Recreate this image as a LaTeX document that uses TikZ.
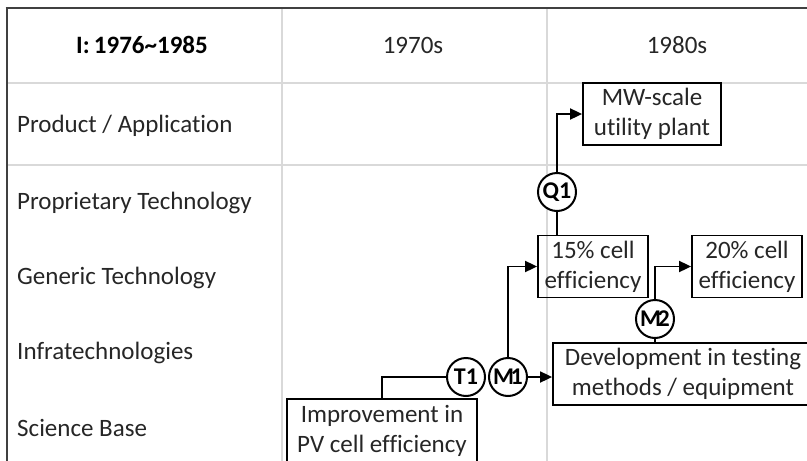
\documentclass[tikz,border=0pt]{standalone}
\usepackage{fontspec}
\setmainfont{Carlito}[Ligatures={NoCommon}]
\usetikzlibrary{arrows.meta}
\definecolor{gridgray}{RGB}{217,217,217}
\definecolor{framegray}{RGB}{64,64,64}
\definecolor{inkgray}{RGB}{38,38,38}
\begin{document}
\begin{tikzpicture}[x=1pt,y=-1pt,
  font=\fontsize{25}{30}\selectfont,
  gridline/.style={draw=gridgray,line width=2pt},
  frameline/.style={draw=framegray,line width=2.6pt},
  rowlabel/.style={anchor=west,inner sep=0pt,text=inkgray},
  headlabel/.style={inner sep=0pt,text=inkgray},
  stagebox/.style={draw=black,line width=1.8pt,inner sep=0pt,align=center,
    minimum height=62pt,text=inkgray},
  linkcirc/.style={draw=black,fill=white,circle,line width=2pt,minimum size=38pt,
    inner sep=0pt,font=\fontsize{24}{24}\selectfont\bfseries},
  conn/.style={draw=black,line width=1.8pt},
  arr/.style={conn,-{Triangle[length=12pt,width=11pt]}}
]
\clip (0,0) rectangle (807,461);

% table grid
\draw[gridline] (7,83) -- (807,83);
\draw[gridline] (7,165) -- (807,165);
\draw[gridline] (282,8) -- (282,461);
\draw[gridline] (547,8) -- (547,461);
% outer frame (top and left)
\draw[frameline] (5.7,8) -- (807,8);
\draw[frameline] (7,8) -- (7,461);

% header row
\node[headlabel,font=\fontsize{25}{30}\selectfont\bfseries,text=black] (hperiod) at (142,45) {I:\,1976\textasciitilde1985};
\node[headlabel] (h70) at (413,45) {1970s};
\node[headlabel] (h80) at (677,45) {1980s};

% row labels
\node[rowlabel] (rprod)  at (17,126) {Product / Application};
\node[rowlabel] (rprop)  at (17,203) {Proprietary Technology};
\node[rowlabel] (rgen)   at (17,278) {Generic Technology};
\node[rowlabel] (rinfra) at (17,353) {Infratechnologies};
\node[rowlabel] (rsci)   at (17,428) {Science Base};

% stage boxes
\node[stagebox,minimum width=138pt] (mw)  at (652,114)   {MW-scale\\utility plant};
\node[stagebox,minimum width=110pt] (p15) at (593,266.5) {15\% cell\\efficiency};
\node[stagebox,minimum width=110pt] (p20) at (747,266.5) {20\% cell\\efficiency};
\node[stagebox,minimum width=260pt] (dev) at (683,374)   {Development in testing\\methods / equipment};
\node[stagebox,minimum width=190pt,minimum height=63pt] (imp) at (382,430.5) {Improvement in\\PV cell efficiency};

% connectors
\draw[conn] (imp.north) |- (466,377);
\draw[arr] (508,377) |- (p15.west);
\draw[arr] (508,377) -- (508,377 -| dev.west);
\draw[arr] (557,192) |- (mw.west);
\draw[conn] (557,192) -- (557,192 |- p15.north);
\draw[arr] (655,319) |- (p20.west);
\draw[conn] (655,319) -- (655,319 |- dev.north);

% transition markers
\node[linkcirc] (q1) at (557,192) {Q1};
\node[linkcirc] (m2) at (655,319) {M\kern-3.5pt2};
\node[linkcirc] (t1) at (466,377) {T1};
\node[linkcirc] (m1) at (508,377) {M\kern-3.5pt1};
\end{tikzpicture}
\end{document}
